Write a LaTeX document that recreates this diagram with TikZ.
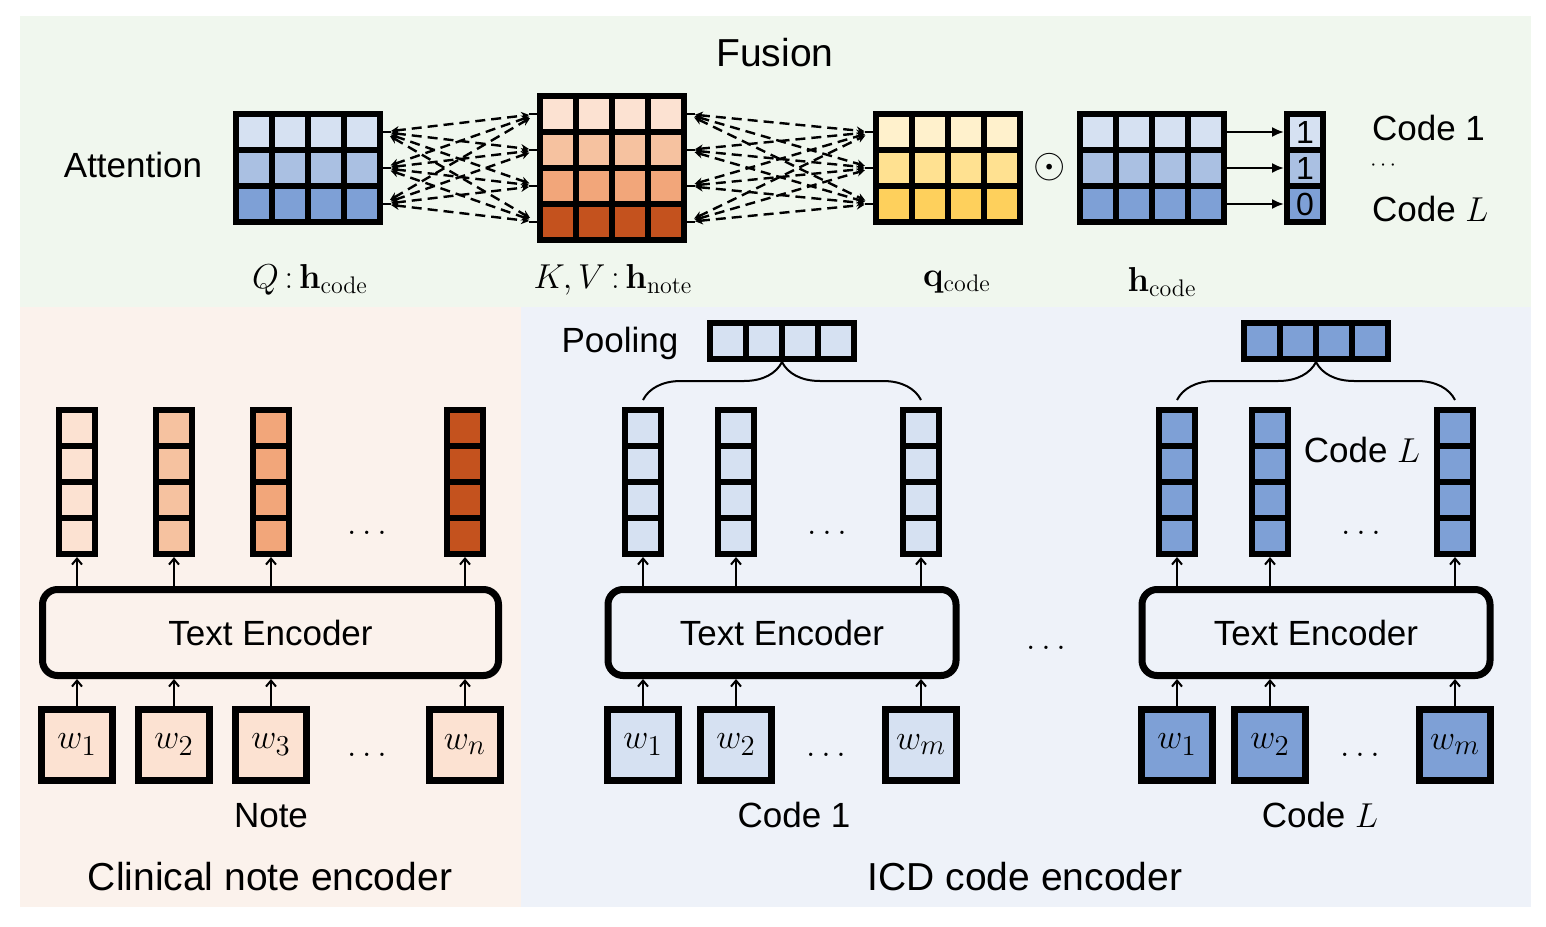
\documentclass[tikz,border=0pt]{standalone}
\usepackage[no-math]{fontspec}
\setmainfont{Liberation Sans}
\usetikzlibrary{arrows.meta,decorations.pathreplacing}
\definecolor{bgG}{RGB}{240,247,238}
\definecolor{bgP}{RGB}{251,242,236}
\definecolor{bgB}{RGB}{238,242,249}
\definecolor{bA}{RGB}{214,225,242}
\definecolor{bB}{RGB}{170,192,226}
\definecolor{bC}{RGB}{126,160,214}
\definecolor{oA}{RGB}{252,226,210}
\definecolor{oB}{RGB}{246,194,160}
\definecolor{oC}{RGB}{242,166,122}
\definecolor{oD}{RGB}{196,82,30}
\definecolor{yA}{RGB}{255,241,204}
\definecolor{yB}{RGB}{255,225,145}
\definecolor{yC}{RGB}{254,208,92}
\begin{document}
\begin{tikzpicture}[x=0.5pt,y=-0.5pt,
  font=\fontsize{17.5}{21}\selectfont,
  c/.style={draw,line width=3pt,minimum size=18pt,inner sep=0pt},
  w/.style={draw,line width=3.5pt,minimum size=35.5pt,inner sep=0pt,font=\fontsize{19}{22}\selectfont},
  enc/.style={draw,line width=3.5pt,rounded corners=7.5pt,minimum height=43pt,inner sep=0pt},
  ttl/.style={font=\fontsize{19.5}{23}\selectfont},
  a/.style={-{Straight Barb[length=3pt,width=5pt]},line width=1pt},
  ar/.style={-{Latex[length=6pt,width=5pt]},line width=1pt},
  dl/.style={dash pattern=on 5pt off 3pt,line width=1.2pt,{Stealth[length=4pt,width=4pt]}-{Stealth[length=4pt,width=4pt]},shorten <=4pt,shorten >=4pt},
  br/.style={decorate,decoration={brace,amplitude=19pt},line width=1pt}]
\useasboundingbox (0,0) rectangle (1546,926);
\fill[bgG] (20,16) rectangle (1531,307);
\fill[bgP] (20,307) rectangle (521,907);
\fill[bgB] (521,307) rectangle (1531,907);

% fusion
\node[ttl] (fus) at (775,53) {Fusion};
\node (att) at (133,165) {Attention};
\foreach \r/\cq/\cy in {1/bA/yA,2/bB/yB,3/bC/yC}{
  \foreach \k in {1,...,4}{
    \node[c,fill=\cq] (Q-\r-\k) at (218+36*\k,96+36*\r) {};
    \node[c,fill=\cy] (qc-\r-\k) at (857.5+36*\k,96+36*\r) {};
    \node[c,fill=\cq] (hc-\r-\k) at (1061.5+36*\k,96+36*\r) {};
  }
}
\foreach \r/\ck in {1/oA,2/oB,3/oC,4/oD}
  \foreach \k in {1,...,4}
    \node[c,fill=\ck] (K-\r-\k) at (522+36*\k,78+36*\r) {};
\foreach \r/\cq/\v in {1/bA/1,2/bB/1,3/bC/0}
  \node[c,fill=\cq,font=\fontsize{16}{18}\selectfont] (out-\r) at (1305,96+36*\r) {\v};
\foreach \i in {1,2,3}{
  \draw[line width=1.2pt] (Q-\i-4.east) -- ++(8,0);
  \draw[line width=1.2pt] (qc-\i-1.west) -- ++(-8,0);
  \draw[ar] (hc-\i-4.east) -- (out-\i.west);
  \foreach \j in {1,...,4}{
    \draw[dl] (Q-\i-4.east) -- (K-\j-1.west);
    \draw[dl] (K-\j-4.east) -- (qc-\i-1.west);
  }
}
\foreach \j in {1,...,4}{
  \draw[line width=1.2pt] (K-\j-1.west) -- ++(-8,0);
  \draw[line width=1.2pt] (K-\j-4.east) -- ++(8,0);
}
\node[font=\fontsize{22}{24}\selectfont] (odot) at (1050,167) {$\odot$};
\node[anchor=west] (l1) at (1365,128) {Code 1};
\node[anchor=west,inner sep=0pt,font=\fontsize{11}{12}\selectfont] (ld) at (1370,166) {$\cdots$};
\node[anchor=west] (lL) at (1365,209) {Code $L$};
\node (lq) at (310,280) {$Q\,{:}\,\mathbf{h}_{\mathrm{code}}$};
\node (lk) at (613,280) {$K,V\,{:}\,\mathbf{h}_{\mathrm{note}}$};
\node (lqc) at (957,282) {$\mathbf{q}_{\mathrm{code}}$};
\node (lhc) at (1162,282) {$\mathbf{h}_{\mathrm{code}}$};

% clinical note encoder
\node[enc,minimum width=228pt] (te0) at (270.5,632.5) {Text Encoder};
\foreach \x/\ck/\s [count=\n] in {77/oA/1,174/oB/2,271/oC/3,465/oD/n}{
  \foreach \k in {1,...,4}
    \node[c,fill=\ck] (n\n-\k) at (\x,392+36*\k) {};
  \node[w,fill=oA] (nw\n) at (\x,744.5) {$w_{\s}$};
  \draw[a] (nw\n) -- (nw\n |- te0.south);
  \draw[a] (n\n-4 |- te0.north) -- (n\n-4);
}
\node (nd1) at (367,533) {$\dots$};
\node (nd2) at (367,755) {$\dots$};
\node (note) at (271,816) {Note};
\node[ttl] (cne) at (270,877) {Clinical note encoder};

% ICD code encoder
\foreach \g/\cx/\ck in {a/782/bA,b/1316/bC}{
  \node[enc,minimum width=174pt] (te\g) at (\cx,632.5) {Text Encoder};
  \foreach \dx/\s [count=\n] in {-139/1,-46/2,139/m}{
    \foreach \k in {1,...,4}
      \node[c,fill=\ck] (\g\n-\k) at (\cx+\dx,392+36*\k) {};
    \node[w,fill=\ck] (\g w\n) at (\cx+\dx,744.5) {$w_{\s}$};
    \draw[a] (\g w\n) -- (\g w\n |- te\g.south);
    \draw[a] (\g\n-4 |- te\g.north) -- (\g\n-4);
  }
  \foreach \k in {1,...,4}
    \node[c,fill=\ck] (\g p\k) at (\cx-90+36*\k,340.5) {};
  \draw[br] ([yshift=3.5pt]\g1-1.north) -- ([yshift=3.5pt]\g3-1.north);
  \node (\g d1) at (\cx+45,533) {$\dots$};
  \node (\g d2) at (\cx+44,755) {$\dots$};
}
\node (pool) at (620,343) {Pooling};
\node (cLa) at (1362,450) {Code $L$};
\node (c1) at (794,815) {Code 1};
\node (cL) at (1320,815) {Code $L$};
\node (md) at (1046,648) {$\dots$};
\node[ttl] (ice) at (1025,877) {ICD code encoder};
\end{tikzpicture}
\end{document}
